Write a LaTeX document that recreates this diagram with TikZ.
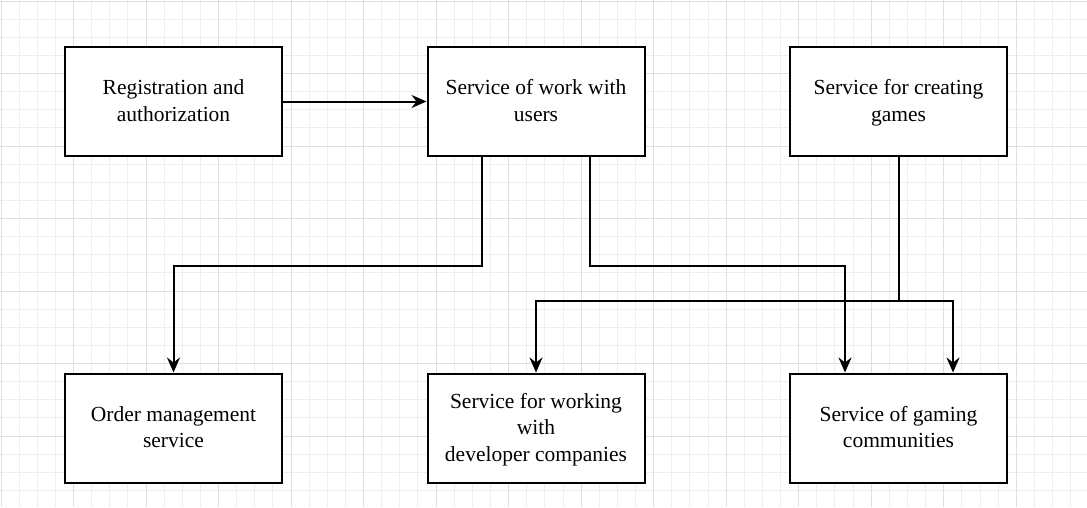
\documentclass[tikz,border=0pt]{standalone}
\usepackage{fontspec}
\setmainfont{Liberation Serif}
\usetikzlibrary{arrows.meta}
\definecolor{gridminor}{HTML}{EEEEEE}
\definecolor{gridmajor}{HTML}{DEDEDE}
\tikzset{
  block/.style={draw, line width=2pt, fill=white, minimum width=217pt,
    minimum height=109pt},
  btext/.style={align=center, font=\fontsize{21.5}{26.5}\selectfont, yshift=-3pt,
    execute at begin node=\strut, execute at end node=\strut},
  conn/.style={line width=2pt, -{Stealth[length=15pt,width=13pt,inset=5pt]}},
}
\begin{document}
\begin{tikzpicture}[x=1pt,y=-1pt]
  \useasboundingbox (0,0) rectangle (1087,507);
  \fill[white] (0,0) rectangle (1087,507);
  % grid
  \foreach \i in {0,...,59} \draw[gridminor, line width=1pt] ({1+\i*18.13},0) -- ({1+\i*18.13},507);
  \foreach \j in {0,...,27} \draw[gridminor, line width=1pt] (0,{1+\j*18.13}) -- (1087,{1+\j*18.13});
  \foreach \i in {0,...,14} \draw[gridmajor, line width=1pt] ({1+\i*72.52},0) -- ({1+\i*72.52},507);
  \foreach \j in {0,...,6} \draw[gridmajor, line width=1pt] (0,{1+\j*72.52}) -- (1087,{1+\j*72.52});
  % services
  \node[block, label={[btext]center:{Registration and\\authorization}}] (reg) at (173.5,101.5) {};
  \node[block, label={[btext]center:{Service of work with\\users}}] (users) at (536,101.5) {};
  \node[block, label={[btext]center:{Service for creating\\games}}] (games) at (898.5,101.5) {};
  \node[block, label={[btext]center:{Order management\\service}}] (order) at (173.5,428) {};
  \node[block, label={[btext]center:{Service for working\\with\\developer companies}}] (dev) at (536,428) {};
  \node[block, label={[btext]center:{Service of gaming\\communities}}] (comm) at (898.5,428) {};
  % links
  \draw[conn] (reg) -- (users);
  \draw[conn] ([xshift=-54pt]users.south) -- ++(0,109) -| (order.north);
  \draw[conn] ([xshift=54pt]users.south) -- ++(0,109) -| ([xshift=-53.5pt]comm.north);
  \draw[line width=2pt] (games.south) -- ++(0,144) coordinate (split);
  \draw[conn] (split) -| (dev.north);
  \draw[conn] (split) -| ([xshift=54.5pt]comm.north);
\end{tikzpicture}
\end{document}
